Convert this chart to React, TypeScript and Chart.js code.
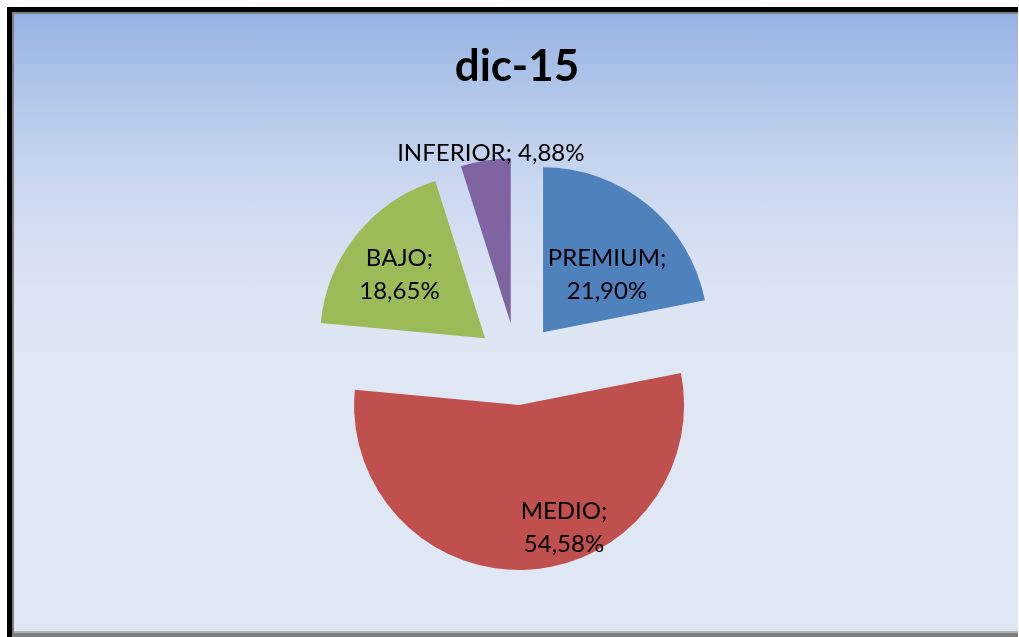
import React, { useEffect, useRef } from "react";
import { Chart, registerables } from "chart.js";

Chart.register(...registerables);

const titleText = "dic-15";
const categories = ["PREMIUM", "MEDIO", "BAJO", "INFERIOR"];
const shares = [21.9, 54.58, 18.65, 4.88];
const shareLabels = ["21,90%", "54,58%", "18,65%", "4,88%"];
const sliceColors = ["#4f81bd", "#c0504d", "#9bbb59", "#8064a2"];

// label placement (style): angle shift (deg) and radius fraction from the slice vertex
const labelStyle = {
  shiftDeg: [8.8, -17.1, -2.2, 2.1],
  radiusFrac: [0.52, 0.794, 0.647, 1.037],
  singleLine: [false, false, false, true],
};

const EXPLODE = 41;

const explodePlugin = {
  id: "explodeDraw",
  beforeDatasetDraw(chart: any, args: any) {
    const ctx = chart.ctx;
    args.meta.data.forEach((arc: any) => {
      const mid = (arc.startAngle + arc.endAngle) / 2;
      ctx.save();
      ctx.translate(Math.cos(mid) * EXPLODE, Math.sin(mid) * EXPLODE);
      arc.draw(ctx);
      ctx.restore();
    });
    return false;
  },
  afterDatasetsDraw(chart: any) {
    const ctx = chart.ctx;
    const meta = chart.getDatasetMeta(0);
    ctx.save();
    ctx.fillStyle = "#000";
    ctx.font = "24px Lato";
    ctx.textAlign = "center";
    ctx.textBaseline = "middle";
    meta.data.forEach((arc: any, i: number) => {
      const mid = (arc.startAngle + arc.endAngle) / 2;
      const vx = arc.x + Math.cos(mid) * EXPLODE;
      const vy = arc.y + Math.sin(mid) * EXPLODE;
      const a = mid + (labelStyle.shiftDeg[i] * Math.PI) / 180;
      const r = labelStyle.radiusFrac[i] * arc.outerRadius;
      const lx = vx + Math.cos(a) * r;
      const ly = vy + Math.sin(a) * r;
      if (labelStyle.singleLine[i]) {
        ctx.fillText(categories[i] + "; " + shareLabels[i], lx, ly);
      } else {
        ctx.fillText(categories[i] + ";", lx, ly - 16.5);
        ctx.fillText(shareLabels[i], lx, ly + 16.5);
      }
    });
    ctx.restore();
  },
};

export default function App() {
  const ref = useRef<HTMLCanvasElement>(null);
  useEffect(() => {
    if (!ref.current) return;
    const chart = new Chart(ref.current, {
      type: "pie",
      data: {
        labels: categories,
        datasets: [{ data: shares, backgroundColor: sliceColors, borderWidth: 0 }],
      },
      options: {
        animation: false,
        responsive: false,
        radius: 165,
        layout: { padding: { left: 15, right: 0, top: 0, bottom: 2.4 } },
        plugins: {
          legend: { display: false },
          tooltip: { enabled: false },
          title: {
            display: true,
            text: titleText,
            color: "#000",
            font: { family: "Lato", size: 44, weight: "bold", lineHeight: 1.2 },
            padding: { top: 40.6, bottom: 0 },
          },
        },
      },
      plugins: [explodePlugin],
    });
    return () => chart.destroy();
  }, []);

  return (
    <div style={{ position: "absolute", left: 0, top: 0, width: 1019, height: 637, background: "#fff", overflow: "hidden" }}>
      <div style={{ position: "absolute", left: 7, top: 7, width: 1011, height: 630, background: "#000" }} />
      <div style={{ position: "absolute", left: 12, top: 12, width: 1006, height: 625, background: "#7f7f7f" }} />
      <div
        style={{
          position: "absolute",
          left: 14,
          top: 14,
          width: 1004,
          height: 617,
          background: "linear-gradient(to bottom, #95b3e2 0%, #b4c8eb 14%, #cbd8f0 28%, #dce4f3 45%, #e0e7f4 60%, #e0e7f4 100%)",
        }}
      />
      <div style={{ position: "absolute", left: 14, top: 631, width: 1004, height: 2, background: "#b0b2ba" }} />
      <div style={{ position: "absolute", left: 1018, top: 0, width: 1, height: 637, background: "#fff" }} />
      <canvas ref={ref} width={1019} height={637} style={{ position: "absolute", left: 0, top: 0 }} />
    </div>
  );
}
